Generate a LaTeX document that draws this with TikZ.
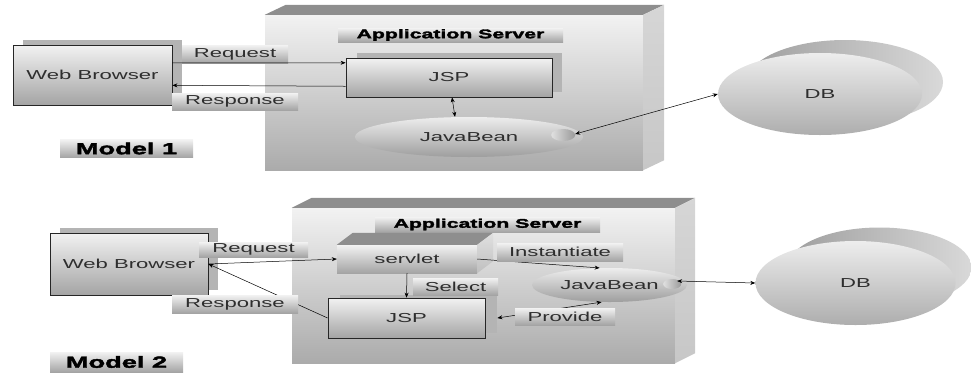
\documentclass[tikz,border=0pt]{standalone}
\usepackage{fontspec}
\setmainfont{Liberation Sans}[FakeStretch=1.7]
\newfontfamily\heavy{Liberation Sans Bold}[FakeStretch=1.7,FakeBold=2.5]
\usetikzlibrary{arrows.meta,calc,shapes.geometric}
\definecolor{shtop}{HTML}{F2F2F2}
\definecolor{shbot}{HTML}{A4A4A4}
\definecolor{shadowgray}{HTML}{B4B4B4}
\definecolor{topface}{HTML}{8E8E8E}
\definecolor{sideface}{HTML}{D6D6D6}
\definecolor{txt}{HTML}{2E2E2E}
\begin{document}
\begin{tikzpicture}[x=1pt,y=-1pt,
  lbl/.style={inner sep=0pt, top color=shtop, bottom color=shbot, text=txt,
    font=\fontsize{13}{15}\selectfont},
  title/.style={inner sep=0pt, top color=shtop, bottom color=shbot, text=black,
    font=\heavy\fontsize{12.5}{14}\selectfont},
  modellbl/.style={inner sep=0pt, top color=shtop, bottom color=shbot, text=black,
    font=\heavy\fontsize{16}{18}\selectfont},
  boxnode/.style={draw=black!85, line width=0.8pt, inner sep=0pt, top color=shtop,
    bottom color=shbot, text=txt, font=\fontsize{13}{15}\selectfont},
  plainbox/.style={draw=none, inner sep=0pt, top color=shtop, bottom color=shbot,
    text=txt, font=\fontsize{13}{15}\selectfont},
  srvfront/.style={draw=none, inner sep=0pt, top color=white!95!black, bottom color=black!33},
  bean/.style={ellipse, inner sep=0pt, top color=white!93!black, bottom color=black!38,
    text=txt, font=\fontsize{13}{15}\selectfont},
  dbfront/.style={ellipse, inner sep=0pt, top color=white!93!black, bottom color=black!32,
    text=txt, font=\fontsize{13}{15}\selectfont},
  arr/.style={-{Stealth[length=5pt,width=4pt]}, line width=0.5pt, black},
  darr/.style={{Stealth[length=5pt,width=4pt]}-{Stealth[length=5pt,width=4pt]}, line width=0.5pt, black}
]
\useasboundingbox (0,0) rectangle (971,373);

% ================= MODEL 1 =================
% application server 1
\node[srvfront, minimum width=378pt, minimum height=155pt] (srv1) at (454,92.5) {};
\fill[topface] (srv1.north west) -- ++(21,-10) -- ($(srv1.north east)+(21,-10)$) -- (srv1.north east) -- cycle;
\shade[top color=sideface, bottom color=black!22] (srv1.north east) -- ++(21,-10) -- ($(srv1.south east)+(21,-10)$) -- (srv1.south east) -- cycle;
\node[title, minimum width=225pt, minimum height=14pt] (as1) at (450.5,35) {Application Server};

% web browser 1
\fill[shadowgray] (23,40) rectangle (182,100);
\node[boxnode, minimum width=159pt, minimum height=60pt] (wb1) at (92.5,75) {Web Browser};

% JSP 1
\fill[shadowgray] (357,53) rectangle (562,92);
\node[boxnode, minimum width=206pt, minimum height=39pt] (jsp1) at (449,77.5) {JSP};

% JavaBean 1
\node[bean, minimum width=228pt, minimum height=40pt] (jb1) at (469,137) {JavaBean};
\shade[left color=black!12, right color=black!40] ($(jb1.east)+(-20,-2)$) ellipse [x radius=12pt, y radius=6pt];

% labels
\node[lbl, minimum width=106pt, minimum height=18pt] (req1) at (235,54) {Request};
\node[lbl, minimum width=126pt, minimum height=17pt] (resp1) at (235,101.5) {Response};
\node[modellbl, minimum width=133pt, minimum height=18pt] (m1) at (126.5,148.5) {Model 1};

% DB 1
\shade[left color=black!38, right color=black!15] (845,82) ellipse [x radius=98pt, y radius=42pt];
\node[dbfront, minimum width=204pt, minimum height=82pt] (db1) at (820,94) {DB};

% connectors 1
\draw[arr] ($(wb1.north east)!0.3!(wb1.south east)$) -- ($(jsp1.north west)!0.13!(jsp1.south west)$);
\draw[arr] ($(jsp1.north west)!0.72!(jsp1.south west)$) -- ($(wb1.north east)!0.67!(wb1.south east)$);
\draw[darr] ($(jsp1.south)+(3,0)$) -- ($(jb1.north)+(-14,0)$);
\draw[darr] ($(jb1.east)+(-8,-3)$) -- (db1.west);

% ================= MODEL 2 =================
\node[srvfront, minimum width=383pt, minimum height=155pt] (srv2) at (483.5,285.5) {};
\fill[topface] (srv2.north west) -- ++(20,-10) -- ($(srv2.north east)+(20,-10)$) -- (srv2.north east) -- cycle;
\shade[top color=sideface, bottom color=black!22] (srv2.north east) -- ++(20,-10) -- ($(srv2.south east)+(20,-10)$) -- (srv2.south east) -- cycle;
\node[title, minimum width=225pt, minimum height=15pt] (as2) at (487.5,224.5) {Application Server};

% web browser 2
\fill[shadowgray] (60,228) rectangle (218,290);
\node[boxnode, minimum width=158pt, minimum height=62pt] (wb2) at (129,264) {Web Browser};

% servlet (3D box)
\node[plainbox, minimum width=140pt, minimum height=28pt] (servlet) at (407,259) {servlet};
\fill[topface] (servlet.north west) -- ++(16,-12) -- ($(servlet.north east)+(16,-12)$) -- (servlet.north east) -- cycle;
\shade[top color=black!12, bottom color=black!25] (servlet.north east) -- ++(16,-12) -- ($(servlet.south east)+(16,-12)$) -- (servlet.south east) -- cycle;

% JSP 2
\fill[shadowgray] (340,295) rectangle (497,333);
\node[boxnode, minimum width=157pt, minimum height=40pt] (jsp2) at (406.5,318) {JSP};

% JavaBean 2
\node[bean, minimum width=155pt, minimum height=34pt] (jb2) at (609.5,285) {JavaBean};
\shade[left color=black!12, right color=black!40] ($(jb2.east)+(-15,-1)$) ellipse [x radius=9pt, y radius=5pt];

% DB 2
\shade[left color=black!38, right color=black!15] (879.5,267.5) ellipse [x radius=92pt, y radius=40pt];
\node[dbfront, minimum width=200pt, minimum height=84pt] (db2) at (855.5,283) {DB};

% connectors 2
\draw[arr] (wb2.east) -- (servlet.west);
\draw[arr] (jsp2.west) -- (wb2.east);
\draw[arr] (servlet.east) -- (jb2.120);
\draw[arr] (servlet.south) -- (jsp2.north);
\draw[darr] ($(jsp2.east)+(12,0)$) -- (jb2.245);
\draw[darr] ($(jb2.east)+(-10,-4)$) -- (db2.west);

% labels 2
\node[lbl, minimum width=109pt, minimum height=15pt] (req2) at (253.5,249.5) {Request};
\node[lbl, minimum width=126pt, minimum height=18pt] (resp2) at (235,304) {Response};
\node[lbl, minimum width=126pt, minimum height=18pt] (inst) at (560,252) {Instantiate};
\node[lbl, minimum width=85pt, minimum height=17pt] (sel) at (455.5,286.5) {Select};
\node[lbl, minimum width=100pt, minimum height=17pt] (prov) at (565,316.5) {Provide};
\node[modellbl, minimum width=133pt, minimum height=20pt] (m2) at (116.5,362) {Model 2};
\end{tikzpicture}
\end{document}
